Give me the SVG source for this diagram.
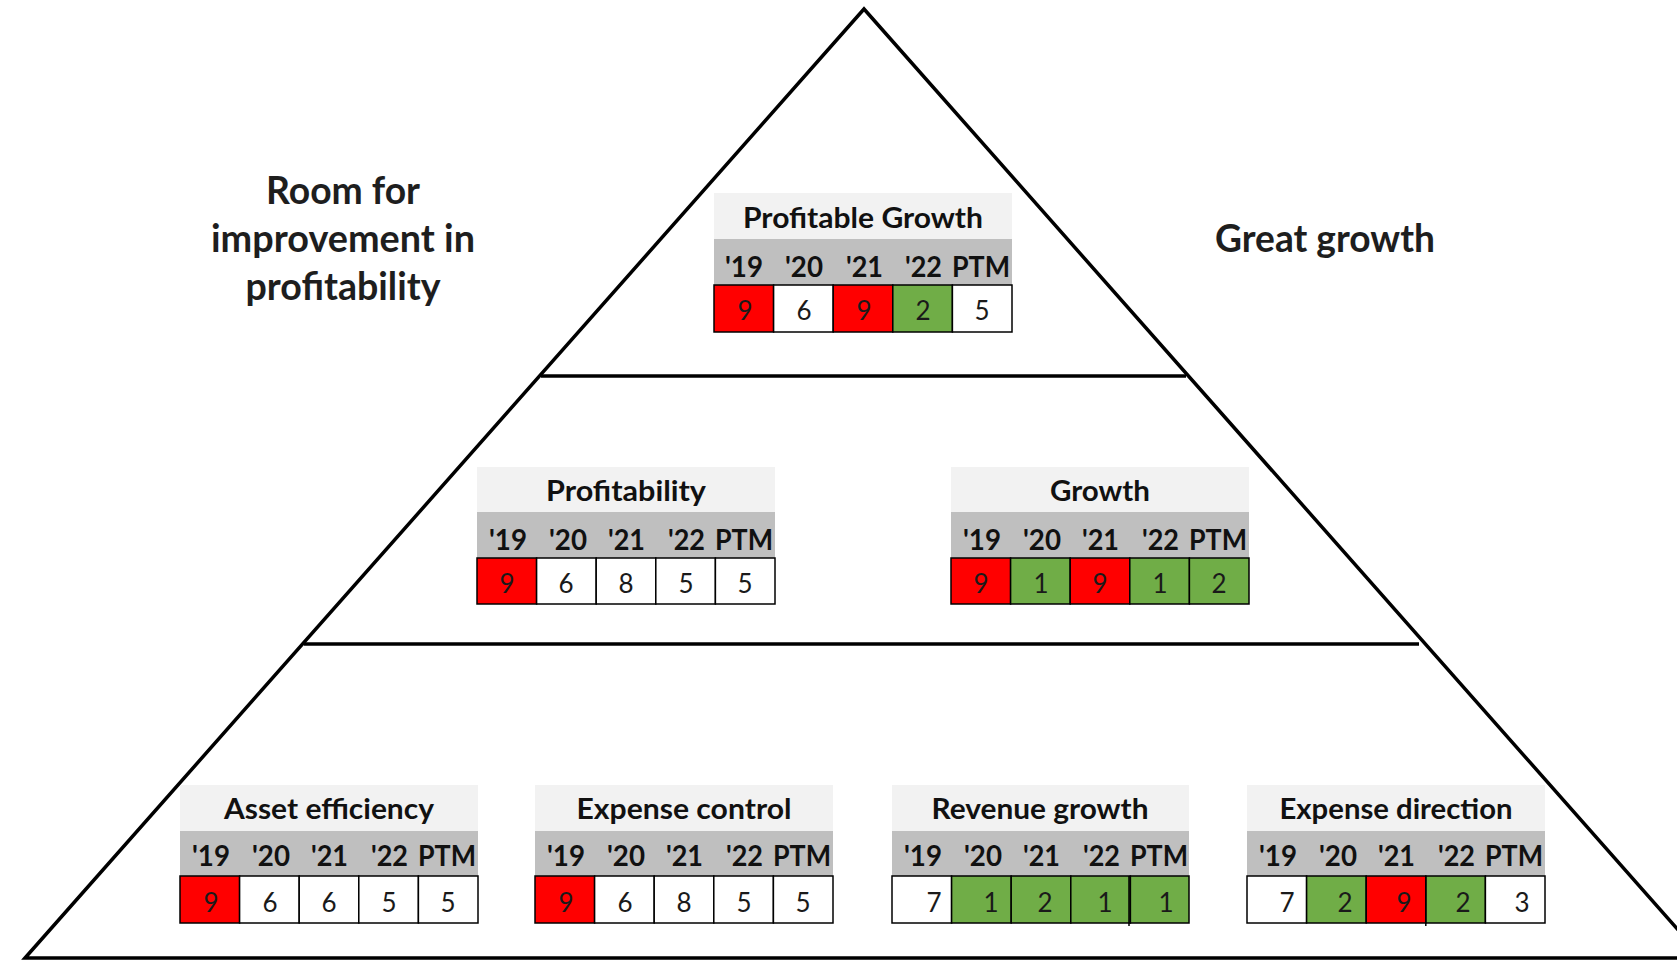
<svg xmlns="http://www.w3.org/2000/svg" width="1677" height="960" viewBox="0 0 1677 960">
  <style>
    text { font-family: Lato, "Open Sans", "Liberation Sans", sans-serif; fill: #111; }
    .side { font-size: 37.5px; font-weight: bold; fill: #1e1e1e; text-anchor: middle; }
    .ttl { font-size: 28px; font-weight: bold; text-anchor: middle; }
    .hd { font-size: 28px; font-weight: bold; text-anchor: end; }
    .num { font-size: 26px; text-anchor: middle; fill: #1a1a1a; }
    .tbg { fill: #F2F2F2; }
    .hbg { fill: #BFBFBF; }
    .c { stroke: #000; stroke-width: 1.5; }
    .r { fill: #FF0000; }
    .g { fill: #70AD47; }
    .w { fill: #FFFFFF; }
    .frame { fill: none; stroke: #000; stroke-width: 3.5; stroke-linejoin: miter; }
    .tier { stroke: #000; stroke-width: 3.5; }
  </style>

  <rect x="0" y="0" width="1677" height="960" fill="#FFFFFF"/>

  <!-- pyramid outline and tier dividers -->
  <g id="connectors">
    <path class="frame" d="M25,958 L864,9 L1703,958 Z"/>
    <line class="tier" x1="541" y1="376" x2="1186" y2="376"/>
    <line class="tier" x1="304" y1="644" x2="1419" y2="644"/>
  </g>

  <!-- side captions -->
  <g id="label-left">
    <text class="side" x="343" y="204" textLength="154" lengthAdjust="spacingAndGlyphs">Room for</text>
    <text class="side" x="343" y="252" textLength="264" lengthAdjust="spacingAndGlyphs">improvement in</text>
    <text class="side" x="343" y="300" textLength="195" lengthAdjust="spacingAndGlyphs">profitability</text>
  </g>
  <g id="label-right">
    <text class="side" x="1325" y="252" textLength="220" lengthAdjust="spacingAndGlyphs">Great growth</text>
  </g>

  <!-- Top tier: Profitable Growth (left 714, top 193) -->
  <g id="profitable-growth">
    <rect class="tbg" x="714" y="193" width="298" height="46"/>
    <rect class="hbg" x="714" y="239" width="298" height="46"/>
    <text class="ttl" x="863" y="228" textLength="240" lengthAdjust="spacingAndGlyphs">Profitable Growth</text>
    <text class="hd" x="763" y="277" textLength="38" lengthAdjust="spacingAndGlyphs">'19</text>
    <text class="hd" x="823" y="277" textLength="38" lengthAdjust="spacingAndGlyphs">'20</text>
    <text class="hd" x="883" y="277" textLength="37" lengthAdjust="spacingAndGlyphs">'21</text>
    <text class="hd" x="942" y="277" textLength="37" lengthAdjust="spacingAndGlyphs">'22</text>
    <text class="hd" x="1010" y="277" textLength="58" lengthAdjust="spacingAndGlyphs">PTM</text>
    <rect class="c r" x="714" y="285" width="59.6" height="47"/>
    <rect class="c w" x="773.6" y="285" width="59.6" height="47"/>
    <rect class="c r" x="833.2" y="285" width="59.6" height="47"/>
    <rect class="c g" x="892.8" y="285" width="59.6" height="47"/>
    <rect class="c w" x="952.4" y="285" width="59.6" height="47"/>
    <text class="num" x="745" y="320">9</text>
    <text class="num" x="804" y="320">6</text>
    <text class="num" x="864" y="320">9</text>
    <text class="num" x="923" y="320">2</text>
    <text class="num" x="982" y="320">5</text>
  </g>

  <!-- Middle tier: Profitability (left 477, top 467) -->
  <g id="profitability">
    <rect class="tbg" x="477" y="467" width="298" height="45"/>
    <rect class="hbg" x="477" y="512" width="298" height="46"/>
    <text class="ttl" x="626" y="501" textLength="160" lengthAdjust="spacingAndGlyphs">Profitability</text>
    <text class="hd" x="527" y="550" textLength="38" lengthAdjust="spacingAndGlyphs">'19</text>
    <text class="hd" x="587" y="550" textLength="38" lengthAdjust="spacingAndGlyphs">'20</text>
    <text class="hd" x="645" y="550" textLength="37" lengthAdjust="spacingAndGlyphs">'21</text>
    <text class="hd" x="705" y="550" textLength="37" lengthAdjust="spacingAndGlyphs">'22</text>
    <text class="hd" x="773" y="550" textLength="58" lengthAdjust="spacingAndGlyphs">PTM</text>
    <rect class="c r" x="477" y="558" width="59.6" height="46"/>
    <rect class="c w" x="536.6" y="558" width="59.6" height="46"/>
    <rect class="c w" x="596.2" y="558" width="59.6" height="46"/>
    <rect class="c w" x="655.8" y="558" width="59.6" height="46"/>
    <rect class="c w" x="715.4" y="558" width="59.6" height="46"/>
    <text class="num" x="507" y="593">9</text>
    <text class="num" x="566" y="593">6</text>
    <text class="num" x="626" y="593">8</text>
    <text class="num" x="686" y="593">5</text>
    <text class="num" x="745" y="593">5</text>
  </g>

  <!-- Middle tier: Growth (left 951, top 467) -->
  <g id="growth">
    <rect class="tbg" x="951" y="467" width="298" height="45"/>
    <rect class="hbg" x="951" y="512" width="298" height="46"/>
    <text class="ttl" x="1100" y="501" textLength="100" lengthAdjust="spacingAndGlyphs">Growth</text>
    <text class="hd" x="1001" y="550" textLength="38" lengthAdjust="spacingAndGlyphs">'19</text>
    <text class="hd" x="1061" y="550" textLength="38" lengthAdjust="spacingAndGlyphs">'20</text>
    <text class="hd" x="1119" y="550" textLength="37" lengthAdjust="spacingAndGlyphs">'21</text>
    <text class="hd" x="1179" y="550" textLength="37" lengthAdjust="spacingAndGlyphs">'22</text>
    <text class="hd" x="1247" y="550" textLength="58" lengthAdjust="spacingAndGlyphs">PTM</text>
    <rect class="c r" x="951" y="558" width="59.6" height="46"/>
    <rect class="c g" x="1010.6" y="558" width="59.6" height="46"/>
    <rect class="c r" x="1070.2" y="558" width="59.6" height="46"/>
    <rect class="c g" x="1129.8" y="558" width="59.6" height="46"/>
    <rect class="c g" x="1189.4" y="558" width="59.6" height="46"/>
    <text class="num" x="981" y="593">9</text>
    <text class="num" x="1041" y="593">1</text>
    <text class="num" x="1100" y="593">9</text>
    <text class="num" x="1160" y="593">1</text>
    <text class="num" x="1219" y="593">2</text>
  </g>

  <!-- Bottom tier: Asset efficiency (left 180, top 785) -->
  <g id="asset-efficiency">
    <rect class="tbg" x="180" y="785" width="298" height="46"/>
    <rect class="hbg" x="180" y="831" width="298" height="45"/>
    <text class="ttl" x="329" y="819" textLength="210" lengthAdjust="spacingAndGlyphs">Asset efficiency</text>
    <text class="hd" x="230" y="866" textLength="38" lengthAdjust="spacingAndGlyphs">'19</text>
    <text class="hd" x="290" y="866" textLength="38" lengthAdjust="spacingAndGlyphs">'20</text>
    <text class="hd" x="348" y="866" textLength="37" lengthAdjust="spacingAndGlyphs">'21</text>
    <text class="hd" x="408" y="866" textLength="37" lengthAdjust="spacingAndGlyphs">'22</text>
    <text class="hd" x="476" y="866" textLength="58" lengthAdjust="spacingAndGlyphs">PTM</text>
    <rect class="c r" x="180" y="876" width="59.6" height="47"/>
    <rect class="c w" x="239.6" y="876" width="59.6" height="47"/>
    <rect class="c w" x="299.2" y="876" width="59.6" height="47"/>
    <rect class="c w" x="358.8" y="876" width="59.6" height="47"/>
    <rect class="c w" x="418.4" y="876" width="59.6" height="47"/>
    <text class="num" x="211" y="912">9</text>
    <text class="num" x="270" y="912">6</text>
    <text class="num" x="329" y="912">6</text>
    <text class="num" x="389" y="912">5</text>
    <text class="num" x="448" y="912">5</text>
  </g>

  <!-- Bottom tier: Expense control (left 535, top 785) -->
  <g id="expense-control">
    <rect class="tbg" x="535" y="785" width="298" height="46"/>
    <rect class="hbg" x="535" y="831" width="298" height="45"/>
    <text class="ttl" x="684" y="819" textLength="215" lengthAdjust="spacingAndGlyphs">Expense control</text>
    <text class="hd" x="585" y="866" textLength="38" lengthAdjust="spacingAndGlyphs">'19</text>
    <text class="hd" x="645" y="866" textLength="38" lengthAdjust="spacingAndGlyphs">'20</text>
    <text class="hd" x="703" y="866" textLength="37" lengthAdjust="spacingAndGlyphs">'21</text>
    <text class="hd" x="763" y="866" textLength="37" lengthAdjust="spacingAndGlyphs">'22</text>
    <text class="hd" x="831" y="866" textLength="58" lengthAdjust="spacingAndGlyphs">PTM</text>
    <rect class="c r" x="535" y="876" width="59.6" height="47"/>
    <rect class="c w" x="594.6" y="876" width="59.6" height="47"/>
    <rect class="c w" x="654.2" y="876" width="59.6" height="47"/>
    <rect class="c w" x="713.8" y="876" width="59.6" height="47"/>
    <rect class="c w" x="773.4" y="876" width="59.6" height="47"/>
    <text class="num" x="566" y="912">9</text>
    <text class="num" x="625" y="912">6</text>
    <text class="num" x="684" y="912">8</text>
    <text class="num" x="744" y="912">5</text>
    <text class="num" x="803" y="912">5</text>
  </g>

  <!-- Bottom tier: Revenue growth (left 892, top 785) -->
  <g id="revenue-growth">
    <rect class="tbg" x="892" y="785" width="297" height="46"/>
    <rect class="hbg" x="892" y="831" width="297" height="45"/>
    <text class="ttl" x="1040" y="819" textLength="217" lengthAdjust="spacingAndGlyphs">Revenue growth</text>
    <text class="hd" x="942" y="866" textLength="38" lengthAdjust="spacingAndGlyphs">'19</text>
    <text class="hd" x="1002" y="866" textLength="38" lengthAdjust="spacingAndGlyphs">'20</text>
    <text class="hd" x="1060" y="866" textLength="37" lengthAdjust="spacingAndGlyphs">'21</text>
    <text class="hd" x="1120" y="866" textLength="37" lengthAdjust="spacingAndGlyphs">'22</text>
    <text class="hd" x="1188" y="866" textLength="58" lengthAdjust="spacingAndGlyphs">PTM</text>
    <rect class="c w" x="892" y="876" width="59.6" height="47"/>
    <rect class="c g" x="951.6" y="876" width="59.6" height="47"/>
    <rect class="c g" x="1011.2" y="876" width="59.6" height="47"/>
    <rect class="c g" x="1070.8" y="876" width="59.6" height="47"/>
    <rect class="c g" x="1130.4" y="876" width="58.6" height="47"/>
    <line class="c" x1="1129" y1="876" x2="1129" y2="926"/>
    <text class="num" x="934" y="912">7</text>
    <text class="num" x="991" y="912">1</text>
    <text class="num" x="1045" y="912">2</text>
    <text class="num" x="1105" y="912">1</text>
    <text class="num" x="1166" y="912">1</text>
  </g>

  <!-- Bottom tier: Expense direction (left 1247, top 785) -->
  <g id="expense-direction">
    <rect class="tbg" x="1247" y="785" width="298" height="46"/>
    <rect class="hbg" x="1247" y="831" width="298" height="45"/>
    <text class="ttl" x="1396" y="819" textLength="233" lengthAdjust="spacingAndGlyphs">Expense direction</text>
    <text class="hd" x="1297" y="866" textLength="38" lengthAdjust="spacingAndGlyphs">'19</text>
    <text class="hd" x="1357" y="866" textLength="38" lengthAdjust="spacingAndGlyphs">'20</text>
    <text class="hd" x="1415" y="866" textLength="37" lengthAdjust="spacingAndGlyphs">'21</text>
    <text class="hd" x="1475" y="866" textLength="37" lengthAdjust="spacingAndGlyphs">'22</text>
    <text class="hd" x="1543" y="866" textLength="58" lengthAdjust="spacingAndGlyphs">PTM</text>
    <rect class="c w" x="1247" y="876" width="59.6" height="47"/>
    <rect class="c g" x="1306.6" y="876" width="59.6" height="47"/>
    <rect class="c r" x="1366.2" y="876" width="59.6" height="47"/>
    <rect class="c g" x="1425.8" y="876" width="59.6" height="47"/>
    <rect class="c w" x="1485.4" y="876" width="59.6" height="47"/>
    <line class="c" x1="1425.8" y1="876" x2="1425.8" y2="926"/>
    <text class="num" x="1287" y="912">7</text>
    <text class="num" x="1345" y="912">2</text>
    <text class="num" x="1404" y="912">9</text>
    <text class="num" x="1463" y="912">2</text>
    <text class="num" x="1522" y="912">3</text>
  </g>
</svg>
